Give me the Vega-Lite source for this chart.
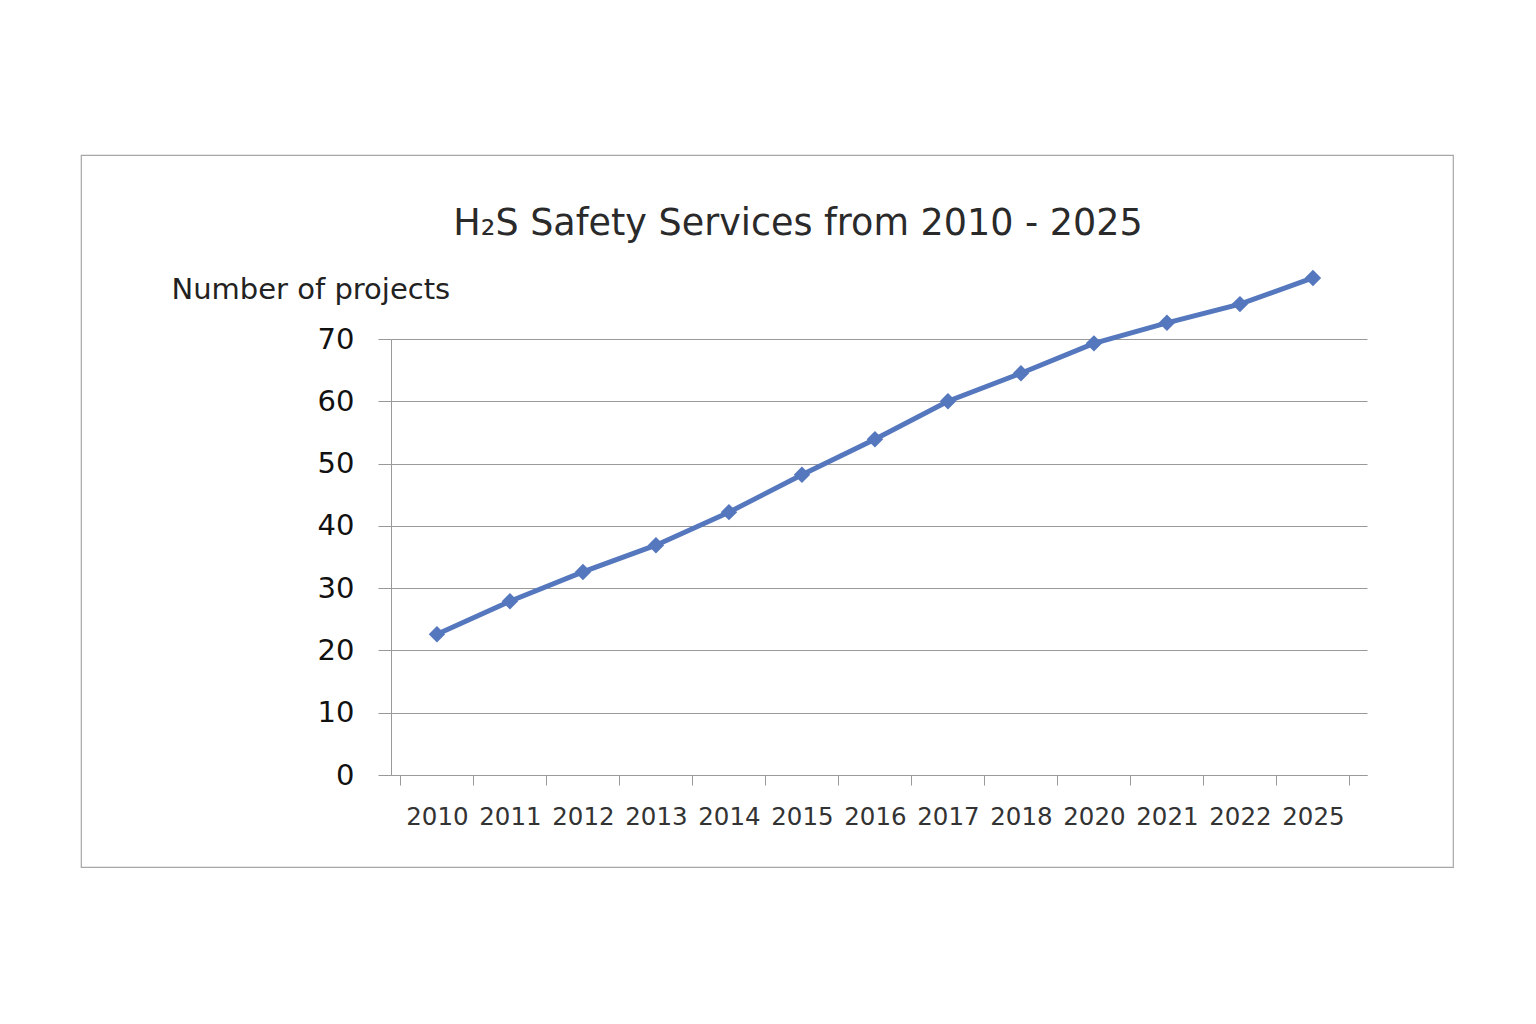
{
  "$schema": "https://vega.github.io/schema/vega-lite/v6.json",
  "autosize": {"type": "none"},
  "width": 1372,
  "height": 712,
  "padding": {"left": 81, "top": 155, "right": 83, "bottom": 157},
  "background": "#ffffff",
  "title": {
    "text": "H₂S Safety Services from 2010 - 2025",
    "font": "DejaVu Sans",
    "fontSize": 36.5,
    "fontWeight": "normal",
    "color": "#2a2a2a",
    "anchor": "middle",
    "frame": "group",
    "baseline": "alphabetic",
    "offset": -116,
    "dx": 31
  },
  "config": {
    "view": {"stroke": "#a6a6a6", "strokeWidth": 1.2},
    "axis": {"labelFont": "DejaVu Sans", "titleFont": "DejaVu Sans"}
  },
  "data": {
    "values": [
      {"year": "2010", "projects": 22.6},
      {"year": "2011", "projects": 27.9},
      {"year": "2012", "projects": 32.6},
      {"year": "2013", "projects": 36.9},
      {"year": "2014", "projects": 42.2},
      {"year": "2015", "projects": 48.2},
      {"year": "2016", "projects": 53.9},
      {"year": "2017", "projects": 60.0},
      {"year": "2018", "projects": 64.5},
      {"year": "2020", "projects": 69.3},
      {"year": "2021", "projects": 72.6},
      {"year": "2022", "projects": 75.6},
      {"year": "2025", "projects": 79.8}
    ]
  },
  "encoding": {
    "x": {
      "field": "year",
      "type": "ordinal",
      "sort": null,
      "scale": {"type": "band", "range": [310, 1286], "paddingInner": 0, "paddingOuter": 0.185, "align": 0.35},
      "axis": {
        "title": null,
        "offset": -92,
        "labelAngle": 0,
        "labelFontSize": 24.5,
        "labelColor": "#333333",
        "labelPadding": 20,
        "tickBand": "extent",
        "tickSize": 10,
        "tickColor": "#999999",
        "domainColor": "#999999",
        "grid": false
      }
    },
    "y": {
      "field": "projects",
      "type": "quantitative",
      "scale": {"domain": [0, 70], "range": [620, 184], "nice": false, "zero": true},
      "axis": {
        "title": "Number of projects",
        "titleAngle": 0,
        "titleAlign": "left",
        "titleBaseline": "alphabetic",
        "titleX": -220,
        "titleY": 143,
        "titleFontSize": 29,
        "titleFontWeight": "normal",
        "titleColor": "#222222",
        "offset": -310,
        "values": [0, 10, 20, 30, 40, 50, 60, 70],
        "labelFontSize": 29,
        "labelColor": "#111111",
        "labelPadding": 24,
        "tickSize": 13,
        "tickColor": "#999999",
        "domainColor": "#999999",
        "grid": true,
        "gridColor": "#999999",
        "gridWidth": 1
      }
    }
  },
  "layer": [
    {"mark": {"type": "line", "color": "#5577bd", "strokeWidth": 5, "clip": false}},
    {"mark": {"type": "point", "shape": "diamond", "filled": true, "opacity": 1, "color": "#5577bd", "size": 270, "clip": false}}
  ]
}
